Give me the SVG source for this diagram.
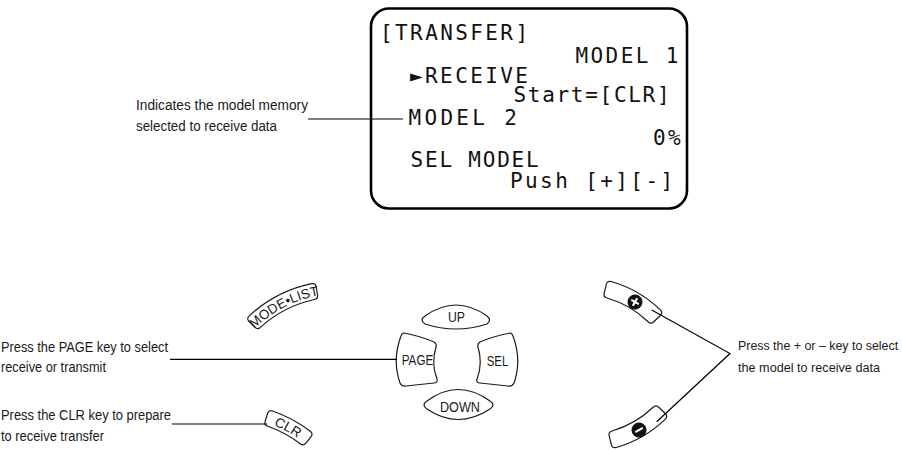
<svg xmlns="http://www.w3.org/2000/svg" width="902" height="450" viewBox="0 0 902 450">
<style>
.lcd{font-family:"DejaVu Sans Mono","Liberation Mono",monospace;font-size:21px;letter-spacing:2.4px;fill:#111}
.note{font-family:"Liberation Sans",Arial,sans-serif;font-size:14px;fill:#1a1a1a}
.note2{font-family:"Liberation Sans",Arial,sans-serif;font-size:12.4px;fill:#1a1a1a}
.key{fill:#fff;stroke:#1a1a1a;stroke-width:1.2;stroke-linejoin:round}
.klbl{font-family:"Liberation Sans",Arial,sans-serif;font-size:14px;fill:#1a1a1a;text-anchor:middle}
.arc{font-family:"Liberation Sans",Arial,sans-serif;font-size:13.5px;fill:#1a1a1a}
.lead{stroke:#000;stroke-width:1.2;fill:none}
</style>
<defs>
<path id="arc120" d="M -77.13,-91.92 A 120 120 0 0 1 77.13,-91.92"/>
<path id="band17" d="M -35.05,-128.31 A 133 133 0 0 1 35.05,-128.31 Q 38.89,-127.19 37.72,-123.36 L 35.38,-115.71 Q 34.21,-111.89 30.36,-112.99 A 117 117 0 0 0 -30.36,-112.99 Q -34.21,-111.89 -35.38,-115.71 L -37.72,-123.36 Q -38.89,-127.19 -35.05,-128.31 Z"/>
<path id="band11" d="M -21.45,-131.26 A 133 133 0 0 1 21.45,-131.26 Q 25.38,-130.55 24.61,-126.63 L 23.09,-118.77 Q 22.32,-114.85 18.38,-115.55 A 117 117 0 0 0 -18.38,-115.55 Q -22.32,-114.85 -23.09,-118.77 L -24.61,-126.63 Q -25.38,-130.55 -21.45,-131.26 Z"/>
<path id="bandPM" d="M -28.38,-113.50 A 117 117 0 0 1 28.38,-113.50 Q 32.25,-112.47 31.14,-108.63 L 28.66,-99.98 Q 27.56,-96.13 23.70,-97.15 A 100 100 0 0 0 -23.70,-97.15 Q -27.56,-96.13 -28.66,-99.98 L -31.14,-108.63 Q -32.25,-112.47 -28.38,-113.50 Z"/>
</defs>
<rect width="902" height="450" fill="#fff"/>

<g id="lcd">
<rect x="371" y="8.5" width="316" height="200" rx="18" fill="#fff" stroke="#000" stroke-width="2.6"/>
<text class="lcd" x="380" y="40">[TRANSFER]</text>
<text class="lcd" x="575.5" y="63">MODEL 1</text>
<text class="lcd" x="410" y="83">►RECEIVE</text>
<text class="lcd" x="513.5" y="102" style="letter-spacing:1.7px">Start=[CLR]</text>
<text class="lcd" x="408.5" y="125" style="letter-spacing:3.3px">MODEL 2</text>
<text class="lcd" x="653" y="145">0%</text>
<text class="lcd" x="410.5" y="167" style="letter-spacing:1.8px">SEL MODEL</text>
<text class="lcd" x="510" y="188">Push [+][-]</text>
</g>

<g id="note-memory">
<text class="note" x="136" y="110" textLength="172" lengthAdjust="spacingAndGlyphs">Indicates the model memory</text>
<text class="note" x="136" y="131" textLength="141" lengthAdjust="spacingAndGlyphs">selected to receive data</text>
</g>

<g id="key-modelist">
<g transform="translate(339.2,413.8) rotate(-27.3)">
<use href="#band17" class="key"/>
<text class="arc"><textPath href="#arc120" startOffset="50%" text-anchor="middle">MODE•LIST</textPath></text>
</g>
</g>

<g id="key-clr">
<g transform="translate(229.2,536.7) rotate(28.3)">
<use href="#band11" class="key"/>
<text class="arc"><textPath href="#arc120" startOffset="50%" text-anchor="middle">CLR</textPath></text>
</g>
</g>

<g id="key-up">
<path class="key" d="M 425,316 Q 456,294 487,316 Q 492,320 487,324 Q 456,334 425,324 Q 419,320 425,316 Z"/>
<text class="klbl" x="456.5" y="322" textLength="17" lengthAdjust="spacingAndGlyphs">UP</text>
</g>
<g id="key-page">
<path class="key" d="M 404,333 Q 420,336 434,342 Q 437,344 436,347 Q 431,364 437,379 Q 438,383 434,383 L 406,386 Q 402,387 400,383 Q 392,360 401,336 Q 402,333 404,333 Z"/>
<text class="klbl" x="417.5" y="365" textLength="31.6" lengthAdjust="spacingAndGlyphs">PAGE</text>
</g>
<g id="key-sel">
<path class="key" d="M 510,333 Q 494,336 480,342 Q 477,344 478,347 Q 483,364 477,379 Q 476,383 480,383 L 508,386 Q 512,387 514,383 Q 522,360 513,336 Q 512,333 510,333 Z"/>
<text class="klbl" x="497.5" y="365.5" textLength="21.6" lengthAdjust="spacingAndGlyphs">SEL</text>
</g>
<g id="key-down">
<path class="key" d="M 427,401 Q 458,378 490,401 Q 496,405 490,409 Q 458,430 427,409 Q 421,405 427,401 Z"/>
<text class="klbl" x="460" y="411.5" textLength="40" lengthAdjust="spacingAndGlyphs">DOWN</text>
</g>

<g id="key-plus">
<use href="#bandPM" class="key" transform="translate(579,394) rotate(30)"/>
<g transform="translate(635,302) rotate(30)">
<circle r="7.5" fill="#111"/>
<path d="M-4.3,0H4.3M0,-4.3V4.3" stroke="#fff" stroke-width="2.2"/>
</g>
</g>
<g id="key-minus">
<use href="#bandPM" class="key" transform="translate(5,729) scale(1,-1) translate(579,394) rotate(30)"/>
<g transform="translate(639,430) rotate(-30)">
<circle r="7.5" fill="#111"/>
<path d="M-4.3,0H4.3" stroke="#fff" stroke-width="2.2"/>
</g>
</g>

<g id="note-page">
<text class="note" x="1" y="352" textLength="167" lengthAdjust="spacingAndGlyphs">Press the PAGE key to select</text>
<text class="note" x="1" y="372" textLength="105" lengthAdjust="spacingAndGlyphs">receive or transmit</text>
</g>
<g id="note-clr">
<text class="note" x="1" y="420" textLength="170" lengthAdjust="spacingAndGlyphs">Press the CLR key to prepare</text>
<text class="note" x="1" y="441" textLength="103" lengthAdjust="spacingAndGlyphs">to receive transfer</text>
</g>
<g id="note-plusminus">
<text class="note2" x="738" y="350">Press the + or – key to select</text>
<text class="note2" x="738" y="372" textLength="142" lengthAdjust="spacingAndGlyphs">the model to receive data</text>
</g>

<g id="connectors" class="lead">
<line x1="308" y1="119" x2="403" y2="119"/>
<line x1="170" y1="359.3" x2="397" y2="359.3"/>
<line x1="172" y1="424" x2="267" y2="424"/>
<polyline points="651.7,310 730,353.5 656.7,421.7"/>
</g>
</svg>
